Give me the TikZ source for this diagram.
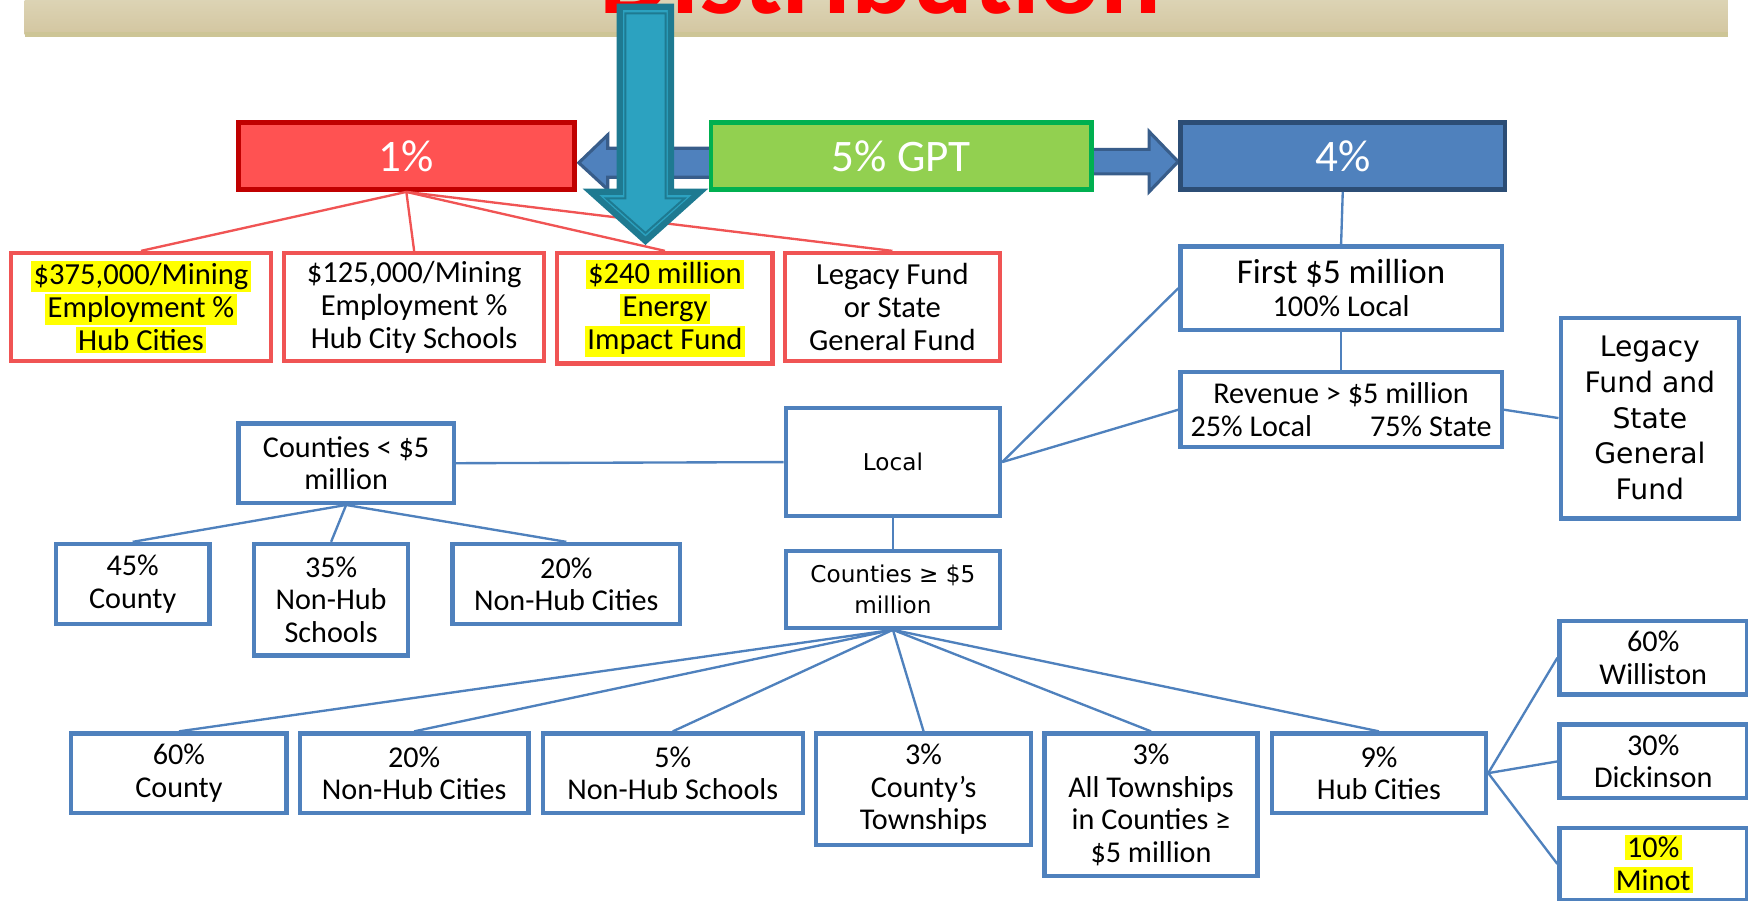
\documentclass[tikz,border=0pt]{standalone}
\usepackage{fontspec}
\setmainfont{Carlito}
\newfontfamily\verdfont{DejaVu Sans}
\usetikzlibrary{calc,backgrounds}
\definecolor{boxblue}{RGB}{79,129,189}
\definecolor{darkblue}{RGB}{56,93,138}
\definecolor{hdrblue}{RGB}{44,77,117}
\definecolor{boxred}{RGB}{255,82,82}
\definecolor{darkred}{RGB}{192,0,0}
\definecolor{linered}{RGB}{240,84,84}
\definecolor{boxgreen}{RGB}{146,208,80}
\definecolor{darkgreen}{RGB}{0,176,80}
\definecolor{tealfill}{RGB}{44,162,192}
\definecolor{tealline}{RGB}{30,122,145}
\definecolor{bandtop}{RGB}{222,214,184}
\definecolor{bandbot}{RGB}{211,198,160}
\definecolor{bandline}{RGB}{205,197,150}
\definecolor{hiyellow}{RGB}{255,255,0}
\newcommand{\hilite}[1]{{\setlength{\fboxsep}{0.6pt}\colorbox{hiyellow}{#1}}}

\begin{document}
\begin{tikzpicture}[x=0.01cm,y=-0.01cm]
  \tikzstyle{header}=[draw,line width=1.2pt,text=white,inner sep=0pt,font=\fontsize{11.5}{13}\selectfont]
  \tikzstyle{redbox}=[draw=linered,line width=1.1pt,fill=white,align=center,inner sep=0pt,font=\fontsize{7.8}{8.4}\selectfont]
  \tikzstyle{bluebox}=[draw=boxblue,line width=1.1pt,fill=white,align=center,inner sep=0pt,font=\fontsize{7.7}{8.3}\selectfont]
  \tikzstyle{widebox}=[bluebox,font=\verdfont\fontsize{5.9}{7.8}\selectfont]
  \tikzstyle{redlink}=[draw,line width=.6pt,-,linered]
  \tikzstyle{bluelink}=[draw,line width=.6pt,-,boxblue]
  \tikzstyle{blockarrow}=[fill=boxblue,draw=darkblue,line width=.8pt,line join=miter]
  \useasboundingbox (0,0) rectangle (1568,808);

  % title band
  \shade[top color=bandtop,bottom color=bandbot] (22,-5) rectangle (1550,31);
  \draw[bandline,line width=1.2pt] (22,31) -- (1550,31);
  \node[anchor=base,text=red,font=\bfseries\fontsize{29}{30}\selectfont] (title) at (790,12) {Distribution};

  % top row
  \node[header,fill=boxred,draw=darkred,minimum width=3.01cm,minimum height=0.6cm] (pct1) at (364.5,140) {1\%};
  \node[header,fill=boxgreen,draw=darkgreen,minimum width=3.41cm,minimum height=0.6cm] (gpt) at (808.5,140) {5\% GPT};
  \node[header,fill=boxblue,draw=hdrblue,minimum width=2.91cm,minimum height=0.6cm] (pct4) at (1204.5,140) {4\%};

  \begin{pgfonlayer}{background}
    \draw[blockarrow] ($(gpt.west)+(10,-7)$) -- ($(pct1.east)+(28,-7)$) -- ($(pct1.east)+(28,-19)$) -- ($(pct1.east)+(2,6)$) -- ($(pct1.east)+(28,30)$) -- ($(pct1.east)+(28,19)$) -- ($(gpt.west)+(10,19)$) -- cycle;
    \draw[blockarrow] ($(gpt.east)+(-10,-6)$) -- ($(pct4.west)+(-26,-6)$) -- ($(pct4.west)+(-26,-22)$) -- ($(pct4.west)+(0,5)$) -- ($(pct4.west)+(-26,32)$) -- ($(pct4.west)+(-26,16)$) -- ($(gpt.east)+(-10,16)$) -- cycle;
  \end{pgfonlayer}

  % 1% split
  \node[redbox,minimum width=2.33cm,minimum height=0.97cm] (minecity) at (126.5,275.5) {\hilite{\$375,000/Mining}\\\hilite{Employment \%}\\\hilite{Hub Cities}};
  \node[redbox,minimum width=2.33cm,minimum height=0.97cm] (mineschool) at (371.5,275.5) {\$125,000/Mining\\Employment \%\\Hub City Schools};
  \node[redbox,minimum width=1.93cm,minimum height=0.99cm] (impact) at (596.5,276.5) {\hilite{\$240 million}\\\hilite{Energy}\\\hilite{Impact Fund}};
  \node[redbox,minimum width=1.93cm,minimum height=0.97cm] (legacyor) at (800.5,275.5) {Legacy Fund\\or State\\General Fund};

  % 4% split
  \node[bluebox,minimum width=2.88cm,minimum height=0.75cm] (first) at (1203,258.5) {{\fontsize{8.9}{10}\selectfont First \$5 million}\\100\% Local};
  \node[bluebox,minimum width=2.88cm,minimum height=0.67cm] (revenue) at (1203,367.5) {Revenue > \$5 million\\25\% Local\hspace{14.8pt}75\% State};
  \node[bluebox,font=\verdfont\fontsize{7.2}{9.1}\selectfont,minimum width=1.6cm,minimum height=1.8cm] (legacyst) at (1480,375) {Legacy\\Fund and\\State\\General\\Fund};
  \node[widebox,minimum width=1.92cm,minimum height=0.97cm] (local) at (801,414.5) {Local};

  % counties under 5 million
  \node[bluebox,minimum width=1.93cm,minimum height=0.71cm] (small) at (310.5,415.5) {Counties < \$5\\million};
  \node[bluebox,minimum width=1.38cm,minimum height=0.72cm] (smallcty) at (119,524) {45\%\\County};
  \node[bluebox,minimum width=1.38cm,minimum height=1.0cm] (smallsch) at (297,538) {35\%\\Non-Hub\\Schools};
  \node[bluebox,minimum width=2.04cm,minimum height=0.72cm] (smallcit) at (508,524) {20\%\\Non-Hub Cities};

  % counties at or over 5 million
  \node[widebox,minimum width=1.92cm,minimum height=0.69cm] (large) at (801,528.5) {Counties ≥ \$5\\million};
  \node[bluebox,minimum width=1.93cm,minimum height=0.71cm] (largecty) at (160.5,693.5) {60\%\\County};
  \node[bluebox,minimum width=2.05cm,minimum height=0.71cm] (largecit) at (371.5,693.5) {20\%\\Non-Hub Cities};
  \node[bluebox,minimum width=2.33cm,minimum height=0.71cm] (largesch) at (603.5,693.5) {5\%\\Non-Hub Schools};
  \node[bluebox,minimum width=1.93cm,minimum height=1.0cm] (owntwp) at (828.5,708) {3\%\\County’s\\Townships};
  \node[bluebox,minimum width=1.91cm,minimum height=1.28cm] (alltwp) at (1032.5,722) {3\%\\All Townships\\in Counties ≥\\\$5 million};
  \node[bluebox,minimum width=1.92cm,minimum height=0.71cm] (hub) at (1237,693.5) {9\%\\Hub Cities};
  \node[bluebox,minimum width=1.68cm,minimum height=0.66cm] (williston) at (1483,590) {60\%\\Williston};
  \node[bluebox,minimum width=1.68cm,minimum height=0.66cm] (dickinson) at (1483,683) {30\%\\Dickinson};
  \node[bluebox,minimum width=1.68cm,minimum height=0.64cm] (minot) at (1483,775) {\hilite{10\%}\\\hilite{Minot}};

  \draw[redlink] (pct1.south) -- (minecity.north);
  \draw[redlink] (pct1.south) -- (mineschool.north);
  \draw[redlink] (pct1.south) -- (impact.north);
  \draw[redlink] (pct1.south) -- (legacyor.north);

  \draw[bluelink] (pct4.south) -- (first.north);
  \draw[bluelink] (first.south) -- (revenue.north);
  \draw[bluelink] (revenue.east) -- (legacyst.west);
  \draw[bluelink] (local.east) -- (first.west);
  \draw[bluelink] (local.east) -- (revenue.west);
  \draw[bluelink] (small.east) -- (local.west);
  \draw[bluelink] (local.south) -- (large.north);
  \draw[bluelink] (small.south) -- (smallcty.north);
  \draw[bluelink] (small.south) -- (smallsch.north);
  \draw[bluelink] (small.south) -- (smallcit.north);
  \draw[bluelink] (large.south) -- (largecty.north);
  \draw[bluelink] (large.south) -- (largecit.north);
  \draw[bluelink] (large.south) -- (largesch.north);
  \draw[bluelink] (large.south) -- (owntwp.north);
  \draw[bluelink] (large.south) -- (alltwp.north);
  \draw[bluelink] (large.south) -- (hub.north);
  \draw[bluelink] (hub.east) -- (williston.west);
  \draw[bluelink] (hub.east) -- (dickinson.west);
  \draw[bluelink] (hub.east) -- (minot.west);

  % pointer from the title
  \filldraw[fill=tealfill,draw=tealline,line width=1.6pt,line join=miter] (556,6) -- (602,6) -- (602,172) -- (628,172) -- (579,216) -- (530,172) -- (556,172) -- cycle;
  \draw[tealline,line width=.5pt] (561,12) -- (597,12) -- (597,178) -- (614,178) -- (579,209) -- (544,178) -- (561,178) -- cycle;
\end{tikzpicture}
\end{document}
